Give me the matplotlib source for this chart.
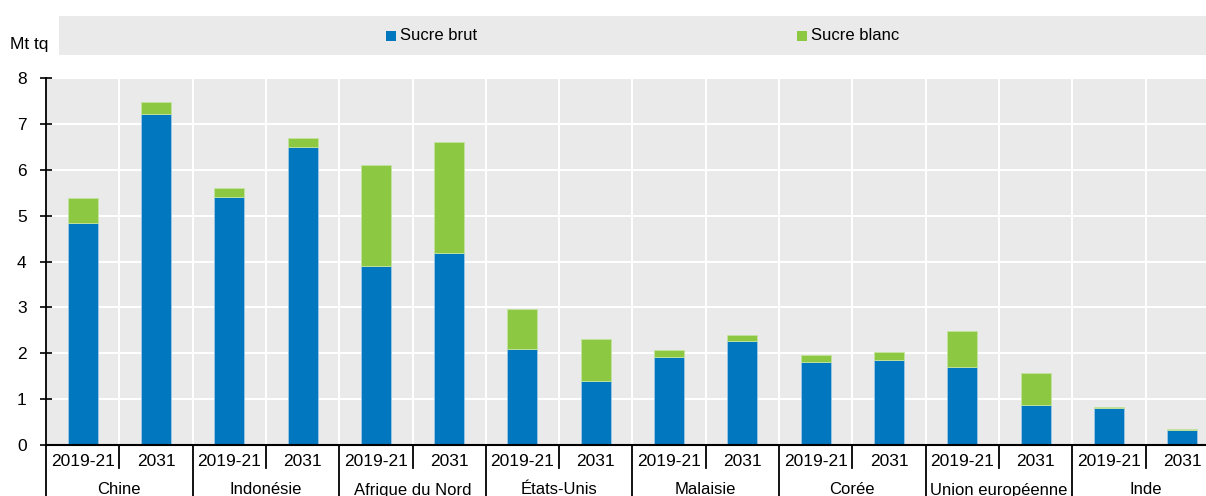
import matplotlib
matplotlib.use("Agg")
import matplotlib.pyplot as plt
import matplotlib.transforms as mtransforms
from matplotlib.patches import Rectangle
import numpy as np

plt.rcParams['font.family'] = ['Liberation Sans', 'DejaVu Sans']

regions = ["Chine", "Indonésie", "Afrique du Nord", "États-Unis", "Malaisie", "Corée", "Union européenne", "Inde"]
periods = ["2019-21", "2031"]
brut = [4.84, 7.21, 5.40, 6.49, 3.90, 4.18, 2.09, 1.39, 1.91, 2.26, 1.81, 1.86, 1.70, 0.88, 0.81, 0.33]
blanc = [0.54, 0.26, 0.20, 0.20, 2.20, 2.42, 0.87, 0.93, 0.16, 0.13, 0.16, 0.17, 0.79, 0.69, 0.01, 0.01]
yticks = [0, 1, 2, 3, 4, 5, 6, 7, 8]

BLUE = "#0077BE"
GREEN = "#8CC841"
BG = "#EAEAEA"

W, H = 1206, 496
fig = plt.figure(figsize=(W / 100, H / 100), dpi=100)
ax = fig.add_axes([46 / W, 1 - 445 / H, (W - 46) / W, (445 - 78) / H])
ax.set_facecolor(BG)

n = len(brut)
x = np.arange(n)
ax.bar(x, brut, width=0.41, color=BLUE, edgecolor="#9ec9e6", linewidth=0.6, zorder=3)
ax.bar(x, blanc, bottom=brut, width=0.41, color=GREEN, edgecolor="#c5e3a0", linewidth=0.6, zorder=3)

slot = (W - 46) / 73.3
ax.set_xlim(-0.5, -0.5 + slot)
ax.set_ylim(0, 8)
ax.set_yticks(yticks)
ax.set_yticklabels([str(t) for t in yticks], fontsize=12.5)
ax.tick_params(axis="y", direction="inout", length=8, width=1.2, pad=10, colors="black")
ax.set_xticks([])
for b in np.arange(0.5, n - 0.5, 1.0):
    ax.axvline(b, color="white", lw=1.5, zorder=1)
for t in yticks[1:]:
    ax.axhline(t, color="white", lw=1.5, zorder=1)

for s in ["top", "right"]:
    ax.spines[s].set_visible(False)
ax.spines["left"].set_linewidth(1.3)
ax.spines["bottom"].set_linewidth(1.5)
ax.spines["bottom"].set_zorder(5)

trans = mtransforms.blended_transform_factory(ax.transData, ax.transAxes)
ax_h_px = 445 - 78
short = -23 / ax_h_px
long_ = -52 / ax_h_px
for i in range(n + 1):
    b = i - 0.5
    y1 = long_ if i % 2 == 0 else short
    ax.plot([b, b], [0, y1], transform=trans, color="black", lw=1.3, clip_on=False)
for i in range(n):
    ax.text(i, -16 / ax_h_px, periods[i % 2], transform=trans, ha="center", va="center", fontsize=12.5)
for g, name in enumerate(regions):
    ax.text(2 * g + 0.5, -45 / ax_h_px, name, transform=trans, ha="center", va="center", fontsize=12)

# legend band
fig.patches.append(Rectangle((59 / W, 1 - 55 / H), (W - 59) / W, 39 / H, transform=fig.transFigure,
                             facecolor=BG, edgecolor="none", zorder=0))
fig.patches.append(Rectangle((386 / W, 1 - 41 / H), 10 / W, 10 / H, transform=fig.transFigure,
                             facecolor=BLUE, edgecolor="none"))
fig.text(400 / W, 1 - 36 / H, "Sucre brut", fontsize=12, va="center", ha="left")
fig.patches.append(Rectangle((797 / W, 1 - 41 / H), 10 / W, 10 / H, transform=fig.transFigure,
                             facecolor=GREEN, edgecolor="none"))
fig.text(811 / W, 1 - 36 / H, "Sucre blanc", fontsize=12, va="center", ha="left")
fig.text(10 / W, 1 - 45 / H, "Mt tq", fontsize=12.5, va="center", ha="left")

fig.savefig("out.png", dpi=100)
